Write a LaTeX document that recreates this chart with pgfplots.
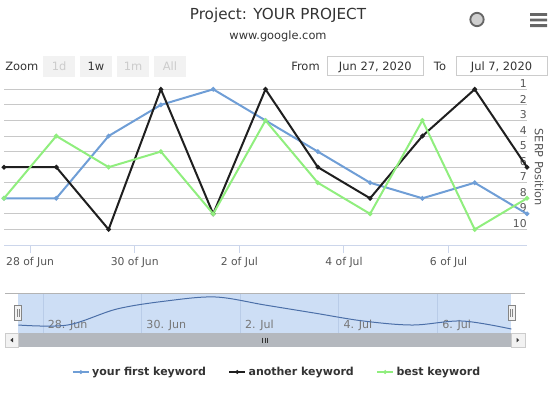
\documentclass[border=0pt]{standalone}
\usepackage{fontspec}
\setmainfont{DejaVu Sans}
\usepackage{pgfplots}
\pgfplotsset{compat=1.18}
\definecolor{txt}{HTML}{333333}
\definecolor{lbl}{HTML}{555555}
\definecolor{blueline}{HTML}{6F9ED6}
\definecolor{blackline}{HTML}{1F1F1F}
\definecolor{greenline}{HTML}{90EE7E}
\definecolor{gridc}{HTML}{C8C8C8}
\definecolor{xaxis}{HTML}{CCD6EB}
\definecolor{navband}{HTML}{CDDEF5}
\definecolor{navgrid}{HTML}{B9CCE8}
\definecolor{navline}{HTML}{4B6FA8}
\definecolor{navoutline}{HTML}{B3B3B3}
\definecolor{scroll}{HTML}{B4B8BE}
\definecolor{btn}{HTML}{F2F2F2}
\definecolor{btnborder}{HTML}{CCCCCC}
\definecolor{disabled}{HTML}{CCCCCC}
\definecolor{iconfill}{HTML}{CFCFCF}
\definecolor{icon}{HTML}{666666}
\definecolor{navlbl}{HTML}{777777}
\pgfplotsset{/pgf/number format/assume math mode=true}
\begin{document}
\begin{tikzpicture}
\path[use as bounding box] (0pt,0pt) rectangle (417.75pt,-294.75pt);
\begin{scope}[x=0.75pt,y=-0.75pt]
 \node[anchor=base, text=txt, font=\fontsize{11.4pt}{13pt}\selectfont, inner sep=0pt] at (278,19.3) {Project: YOUR PROJECT};
 \node[anchor=base, text=txt, font=\fontsize{8.55pt}{10pt}\selectfont, inner sep=0pt] at (278,39) {www.google.com};
 \draw[draw=icon, line width=1.4pt, fill=iconfill] (477,19.5) circle[radius=5pt];
 \fill[icon] (530,13) rectangle (547,15.8) (530,18.6) rectangle (547,21.4) (530,24.2) rectangle (547,27);
 % zoom row
 \node[anchor=base west, text=txt, font=\fontsize{8.6pt}{10pt}\selectfont, inner sep=0pt] at (5,70) {Zoom};
 \fill[btn] (43.3,55.7) rectangle (75,76.7);
 \fill[btn] (80,55.7) rectangle (111.7,76.7);
 \fill[btn] (117.3,55.7) rectangle (149,76.7);
 \fill[btn] (154.3,55.7) rectangle (185.7,76.7);
 \begin{scope}[every node/.style={anchor=base, inner sep=0pt, font=\fontsize{8.6pt}{10pt}\selectfont}]
 \node[text=disabled] at (59.2,70) {1d};
 \node[text=txt] at (95.85,70) {1w};
 \node[text=disabled] at (133.15,70) {1m};
 \node[text=disabled] at (170,70) {All};
 \end{scope}
 \node[anchor=base west, text=txt, font=\fontsize{8.6pt}{10pt}\selectfont, inner sep=0pt] at (291,70) {From};
 \draw[btnborder, line width=0.75pt, fill=white] (327.7,56) rectangle (423,75.5);
 \node[anchor=base, text=txt, font=\fontsize{8.6pt}{10pt}\selectfont, inner sep=0pt] at (375.3,70) {Jun 27, 2020};
 \node[anchor=base west, text=txt, font=\fontsize{8.6pt}{10pt}\selectfont, inner sep=0pt] at (433.7,70) {To};
 \draw[btnborder, line width=0.75pt, fill=white] (456,56) rectangle (547,75.5);
 \node[anchor=base, text=txt, font=\fontsize{8.6pt}{10pt}\selectfont, inner sep=0pt] at (501.5,70) {Jul 7, 2020};
 % scrollbar
 \fill[scroll] (18.3,333) rectangle (511.3,347.3);
 \draw[btnborder, line width=0.75pt, fill=btn] (5,333) rectangle (18.3,347.3);
 \draw[btnborder, line width=0.75pt, fill=btn] (511.3,333) rectangle (525,347.3);
 \fill[txt] (13,337.8) -- (13,342.4) -- (10.3,340.1) -- cycle;
 \fill[txt] (516.5,337.8) -- (516.5,342.4) -- (519.2,340.1) -- cycle;
 \draw[txt, line width=0.5pt] (262.8,337.5) -- (262.8,342.7) (265,337.5) -- (265,342.7) (267.2,337.5) -- (267.2,342.7);
\end{scope}

\begin{axis}[
 at={(3pt,-66.975pt)}, anchor=north west,
 scale only axis, width=392.25pt, height=116.775pt,
 xmin=0, xmax=10, ymin=1, ymax=11, y dir=reverse,
 axis line style={draw=none},
 xtick={0.5,2.5,4.5,6.5,8.5},
 xticklabels={28 of Jun,30 of Jun,2 of Jul,4 of Jul,6 of Jul},
 xtick pos=lower, xticklabel pos=lower,
 ytick={1,2,3,4,5,6,7,8,9,10},
 ytick style={draw=none},
 yticklabel pos=upper,
 tick align=outside, major tick length=6pt,
 xtick style={draw=xaxis, line width=0.75pt},
 ymajorgrids, grid style={draw=gridc, line width=0.75pt},
 tick label style={font=\fontsize{8.1pt}{9pt}\selectfont, text=lbl},
 yticklabel style={anchor=south east, inner sep=0pt, xshift=-6pt, yshift=1.2pt},
 ylabel={SERP Position},
 every axis y label/.style={at={(rel axis cs:1,0.5)}, xshift=9pt, rotate=-90, anchor=center, font=\fontsize{8.5pt}{10pt}\selectfont, text=lbl},
 legend style={at={(0.523,-0.816)}, anchor=center, draw=none, fill=none, legend columns=-1,
   font=\bfseries\fontsize{8.25pt}{10pt}\selectfont, text=txt,
   /tikz/every even column/.append style={column sep=15pt}},
 legend image code/.code={\draw[mark repeat=2,mark phase=2,#1,line width=1pt] plot coordinates {(0pt,0pt) (6pt,0pt) (12pt,0pt)};},
 every axis plot/.append style={line width=1.5pt, mark=*, mark size=0.9pt},
 clip=false,
]
\draw[xaxis, line width=0.75pt] (axis cs:0,11) -- (axis cs:10,11);
\addplot[blueline, mark options={fill=blueline}] coordinates {(0,8) (1,8) (2,4) (3,2) (4,1) (5,3) (6,5) (7,7) (8,8) (9,7) (10,9)};
\addlegendentry{your first keyword}
\addplot[blackline, mark options={fill=blackline}] coordinates {(0,6) (1,6) (2,10) (3,1) (4,9) (5,1) (6,6) (7,8) (8,4) (9,1) (10,6)};
\addlegendentry{another keyword}
\addplot[greenline, mark options={fill=greenline}] coordinates {(0,8) (1,4) (2,6) (3,5) (4,9) (5,3) (6,7) (7,9) (8,3) (9,10) (10,8)};
\addlegendentry{best keyword}
\end{axis}

\begin{axis}[
 at={(13.725pt,-219.975pt)}, anchor=north west,
 scale only axis, width=369.75pt, height=29.55pt,
 xmin=0, xmax=10, ymin=0.08, ymax=9.92, y dir=reverse,
 axis line style={draw=none},
 axis background/.style={fill=navband},
 ytick=\empty,
 xtick={0.5,2.5,4.5,6.5,8.5},
 xticklabels={28. Jun,30. Jun,2. Jul,4. Jul,6. Jul},
 xticklabel pos=lower,
 xmajorgrids, grid style={draw=navgrid, line width=0.6pt},
 major tick length=0pt, tick align=inside,
 xtick style={draw=none},
 xticklabel style={anchor=base west, inner sep=0pt, xshift=3.5pt, yshift=2.8pt, font=\fontsize{8.3pt}{10pt}\selectfont, text=navlbl},
]
\addplot[navline, line width=0.75pt, smooth, tension=0.55] coordinates {(0,8) (1,8) (2,4) (3,2) (4,1) (5,3) (6,5) (7,7) (8,8) (9,7) (10,9)};
\end{axis}

\begin{scope}[x=0.75pt,y=-0.75pt]
 \draw[navoutline, line width=0.75pt] (5,293.3) -- (525,293.3);
 \draw[icon!80, line width=0.6pt, fill=btn] (14.3,305.7) rectangle (21.7,320);
 \draw[icon!80, line width=0.5pt] (17,309) -- (17,316.7) (19,309) -- (19,316.7);
 \draw[icon!80, line width=0.6pt, fill=btn] (508,305.7) rectangle (515.3,320);
 \draw[icon!80, line width=0.5pt] (510.7,309) -- (510.7,316.7) (512.7,309) -- (512.7,316.7);
\end{scope}
\end{tikzpicture}
\end{document}
